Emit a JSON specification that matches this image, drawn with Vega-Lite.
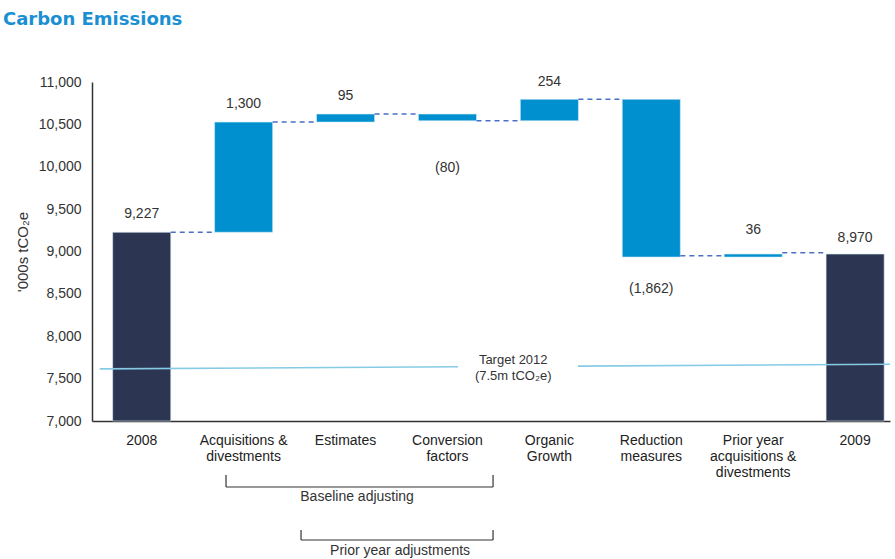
{
  "$schema": "https://vega.github.io/schema/vega-lite/v6.json",
  "width": 798,
  "height": 339,
  "autosize": {"type": "none"},
  "padding": {"left": 92, "top": 82, "right": 5, "bottom": 138},
  "background": "white",
  "title": {"text": "Carbon Emissions", "anchor": "start", "frame": "group", "font": "DejaVu Sans", "fontSize": 18, "fontWeight": "bold", "color": "#1a90d2", "dx": -89, "offset": 46},
  "config": {
    "view": {"stroke": null},
    "font": "Liberation Sans",
    "axis": {"domain": true, "domainColor": "#333333", "domainWidth": 1.5, "domainOpacity": 1, "grid": false, "ticks": false}
  },
  "datasets": {
    "bars": [
      {"cat": "2008", "start": 7000, "end": 9227, "kind": "total"},
      {"cat": "Acquisitions &\ndivestments", "start": 9227, "end": 10527, "kind": "change"},
      {"cat": "Estimates", "start": 10527, "end": 10622, "kind": "change"},
      {"cat": "Conversion\nfactors", "start": 10622, "end": 10542, "kind": "change"},
      {"cat": "Organic\nGrowth", "start": 10542, "end": 10796, "kind": "change"},
      {"cat": "Reduction\nmeasures", "start": 10796, "end": 8934, "kind": "change"},
      {"cat": "Prior year\nacquisitions &\ndivestments", "start": 8934, "end": 8970, "kind": "change"},
      {"cat": "2009", "start": 7000, "end": 8970, "kind": "total"}
    ],
    "connectors": [
      {"from": "2008", "to": "Acquisitions &\ndivestments", "level": 9227},
      {"from": "Acquisitions &\ndivestments", "to": "Estimates", "level": 10527},
      {"from": "Estimates", "to": "Conversion\nfactors", "level": 10622},
      {"from": "Conversion\nfactors", "to": "Organic\nGrowth", "level": 10542},
      {"from": "Organic\nGrowth", "to": "Reduction\nmeasures", "level": 10796},
      {"from": "Reduction\nmeasures", "to": "Prior year\nacquisitions &\ndivestments", "level": 8950},
      {"from": "Prior year\nacquisitions &\ndivestments", "to": "2009", "level": 8985}
    ],
    "valueLabels": [
      {"cat": "2008", "label": "9,227", "at": 9440},
      {"cat": "Acquisitions &\ndivestments", "label": "1,300", "at": 10740},
      {"cat": "Estimates", "label": "95", "at": 10840},
      {"cat": "Conversion\nfactors", "label": "(80)", "at": 9985},
      {"cat": "Organic\nGrowth", "label": "254", "at": 11000},
      {"cat": "Reduction\nmeasures", "label": "(1,862)", "at": 8560},
      {"cat": "Prior year\nacquisitions &\ndivestments", "label": "36", "at": 9250},
      {"cat": "2009", "label": "8,970", "at": 9165}
    ],
    "targetLine": [
      {"pos": -0.412, "pos2": 3.103, "v": 7615, "v2": 7640},
      {"pos": 4.281, "pos2": 7.342, "v": 7648, "v2": 7670}
    ],
    "brackets": [
      {"pos": 0.827, "pos2": 3.447, "v": 6221, "v2": 6221},
      {"pos": 0.827, "pos2": 0.827, "v": 6363, "v2": 6221},
      {"pos": 3.447, "pos2": 3.447, "v": 6363, "v2": 6221},
      {"pos": 1.563, "pos2": 3.447, "v": 5596, "v2": 5596},
      {"pos": 1.563, "pos2": 1.563, "v": 5714, "v2": 5596},
      {"pos": 3.447, "pos2": 3.447, "v": 5714, "v2": 5596}
    ],
    "notes": [
      {"pos": 3.645, "v": 7720, "text": "Target 2012\n(7.5m tCO₂e)", "size": "small"},
      {"pos": 2.113, "v": 6103, "text": "Baseline adjusting", "size": "big"},
      {"pos": 2.535, "v": 5466, "text": "Prior year adjustments", "size": "big"}
    ]
  },
  "resolve": {"scale": {"x": "independent", "y": "shared"}, "axis": {"x": "independent", "y": "independent"}},
  "layer": [
    {
      "resolve": {"scale": {"x": "shared", "y": "shared"}, "axis": {"x": "independent", "y": "independent"}},
      "layer": [
        {
          "data": {"name": "bars"},
          "mark": {"type": "bar", "stroke": "#d6ecf7", "strokeWidth": 0.6},
          "encoding": {
            "x": {
              "field": "cat", "type": "nominal",
              "scale": {
                "domain": ["2008", "Acquisitions &\ndivestments", "Estimates", "Conversion\nfactors", "Organic\nGrowth", "Reduction\nmeasures", "Prior year\nacquisitions &\ndivestments", "2009"],
                "paddingInner": 0.43, "paddingOuter": 0.13, "align": 0.78
              },
              "axis": {
                "title": null, "labelAngle": 0, "labelAlign": "center", "labelBaseline": "top", "labelExpr": "split(datum.label, '\\n')",
                "labelPadding": 12, "labelFontSize": 14, "labelLineHeight": 16,
                "labelColor": "#222", "labelLimit": 0
              }
            },
            "y": {
              "field": "start", "type": "quantitative",
              "scale": {"domain": [7000, 11000], "nice": false, "zero": false},
              "axis": {
                "title": "'000s tCO₂e", "values": [7000, 7500, 8000, 8500, 9000, 9500, 10000, 10500, 11000],
                "format": ",.0f", "labelPadding": 11, "labelFontSize": 14, "labelColor": "#333",
                "titleFontSize": 15, "titleFontWeight": "normal", "titleColor": "#333", "titlePadding": 8
              }
            },
            "y2": {"field": "end"},
            "color": {"field": "kind", "type": "nominal", "scale": {"domain": ["total", "change"], "range": ["#2c3551", "#0090cf"]}, "legend": null}
          }
        },
        {
          "data": {"name": "connectors"},
          "mark": {"type": "rule", "color": "#4a6fc4", "strokeWidth": 1.5, "strokeDash": [5, 4]},
          "encoding": {
            "x": {"field": "from", "type": "nominal", "bandPosition": 1, "axis": null},
            "x2": {"field": "to", "bandPosition": 0},
            "y": {"field": "level", "type": "quantitative", "axis": null}
          }
        },
        {
          "data": {"name": "valueLabels"},
          "mark": {"type": "text", "fontSize": 14, "color": "#333", "baseline": "middle"},
          "encoding": {
            "x": {"field": "cat", "type": "nominal", "axis": null},
            "y": {"field": "at", "type": "quantitative", "axis": null},
            "text": {"field": "label"}
          }
        }
      ]
    },
    {
      "resolve": {"scale": {"x": "shared", "y": "shared"}, "axis": {"x": "independent", "y": "independent"}},
      "layer": [
        {
          "data": {"name": "targetLine"},
          "mark": {"type": "rule", "color": "#86cbe6", "strokeWidth": 1.6},
          "encoding": {
            "x": {"field": "pos", "type": "quantitative", "scale": {"domain": [-0.488, 7.342], "nice": false, "zero": false}, "axis": null},
            "x2": {"field": "pos2"},
            "y": {"field": "v", "type": "quantitative", "axis": null},
            "y2": {"field": "v2"}
          }
        },
        {
          "data": {"name": "brackets"},
          "mark": {"type": "rule", "color": "#333", "strokeWidth": 1.2},
          "encoding": {
            "x": {"field": "pos", "type": "quantitative", "axis": null},
            "x2": {"field": "pos2"},
            "y": {"field": "v", "type": "quantitative", "axis": null},
            "y2": {"field": "v2"}
          }
        },
        {
          "data": {"name": "notes"},
          "mark": {"type": "text", "lineBreak": "\n", "color": "#333", "baseline": "middle", "lineHeight": 16},
          "encoding": {
            "x": {"field": "pos", "type": "quantitative", "axis": null},
            "y": {"field": "v", "type": "quantitative", "axis": null},
            "text": {"field": "text"},
            "size": {"field": "size", "type": "nominal", "scale": {"domain": ["small", "big"], "range": [13, 14]}, "legend": null}
          }
        }
      ]
    }
  ]
}
